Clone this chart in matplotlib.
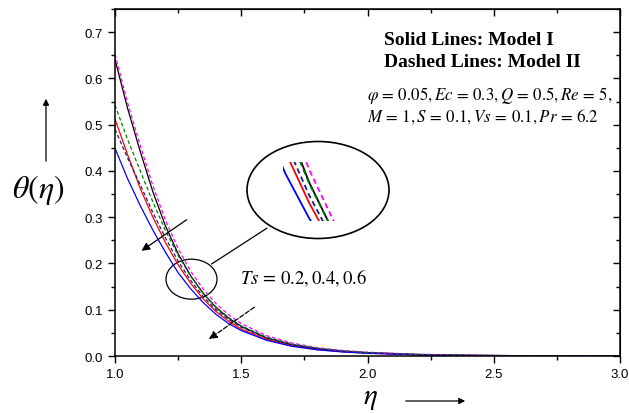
import matplotlib
matplotlib.use('Agg')
import matplotlib.pyplot as plt
from matplotlib.patches import Ellipse, FancyArrowPatch
from matplotlib.ticker import MultipleLocator

plt.rcParams['mathtext.fontset'] = 'stix'
plt.rcParams['font.family'] = ['Liberation Sans', 'DejaVu Sans']

eta = [1.0, 1.05, 1.1, 1.15, 1.2, 1.25, 1.3, 1.35, 1.4, 1.45, 1.5,
       1.6, 1.7, 1.8, 1.9, 2.0, 2.2, 2.4, 2.6, 2.8, 3.0]

# Model I (solid), Ts = 0.2, 0.4, 0.6
solid_ts02 = [0.641, 0.535, 0.442, 0.355, 0.281, 0.221, 0.173, 0.135, 0.105, 0.082, 0.064,
              0.039, 0.024, 0.0155, 0.0102, 0.0068, 0.003, 0.0013, 0.0006, 0.0002, 0.0]
solid_ts04 = [0.512, 0.435, 0.362, 0.300, 0.245, 0.197, 0.157, 0.123, 0.096, 0.075, 0.058,
              0.036, 0.022, 0.014, 0.0093, 0.0061, 0.0027, 0.0012, 0.0005, 0.0002, 0.0]
solid_ts06 = [0.449, 0.383, 0.325, 0.272, 0.224, 0.180, 0.145, 0.115, 0.090, 0.070, 0.055,
              0.034, 0.021, 0.0135, 0.0088, 0.0058, 0.0025, 0.0011, 0.0005, 0.0002, 0.0]
# Model II (dashed)
dash_ts02 = [0.652, 0.547, 0.455, 0.368, 0.293, 0.232, 0.183, 0.144, 0.113, 0.089, 0.070,
             0.044, 0.028, 0.018, 0.012, 0.0082, 0.0038, 0.0018, 0.0008, 0.0003, 0.0]
dash_ts04 = [0.542, 0.468, 0.400, 0.333, 0.271, 0.217, 0.172, 0.135, 0.106, 0.083, 0.065,
             0.041, 0.026, 0.017, 0.0112, 0.0076, 0.0035, 0.0016, 0.0007, 0.0003, 0.0]
dash_ts06 = [0.490, 0.428, 0.370, 0.310, 0.255, 0.205, 0.163, 0.128, 0.100, 0.079, 0.062,
             0.039, 0.025, 0.016, 0.0106, 0.0072, 0.0033, 0.0015, 0.0007, 0.0003, 0.0]

solid = [(solid_ts02, 'black'), (solid_ts04, '#ff0000'), (solid_ts06, '#0000ff')]
dashed = [(dash_ts02, '#ff00ff'), (dash_ts04, '#008000'), (dash_ts06, '#1a1a8c')]


def draw_curves(ax, lw=0.9):
    for vals, c in solid:
        ax.plot(eta, vals, color=c, lw=lw)
    for vals, c in dashed:
        ax.plot(eta, vals, color=c, lw=lw, ls=(0, (3, 2)))


fig = plt.figure(figsize=(6.29, 4.14), dpi=100)
ax = fig.add_axes([115/629, 1 - 357/414, 505/629, 347/414])
draw_curves(ax)
ax.set_xlim(1.0, 3.0)
ax.set_ylim(0.0, 0.75)
ax.xaxis.set_major_locator(MultipleLocator(0.5))
ax.xaxis.set_minor_locator(MultipleLocator(0.25))
ax.yaxis.set_minor_locator(MultipleLocator(0.05))
ax.set_yticks([0, 0.1, 0.2, 0.3, 0.4, 0.5, 0.6, 0.7])
ax.tick_params(which='both', direction='out', labelsize=9.5, width=1)
ax.tick_params(which='major', length=5)
ax.tick_params(which='minor', length=3)
for s in ax.spines.values():
    s.set_linewidth(1.1)

top = ax.secondary_xaxis('top')
top.xaxis.set_major_locator(MultipleLocator(0.5))
top.xaxis.set_minor_locator(MultipleLocator(0.25))
top.tick_params(which='both', direction='in', labeltop=False, width=1)
top.tick_params(which='major', length=5)
top.tick_params(which='minor', length=3)
right = ax.secondary_yaxis('right')
right.yaxis.set_major_locator(MultipleLocator(0.1))
right.yaxis.set_minor_locator(MultipleLocator(0.05))
right.tick_params(which='both', direction='in', labelright=False, width=1)
right.tick_params(which='major', length=5)
right.tick_params(which='minor', length=3)

# legend-like text
ax.text(0.533, 0.913, 'Solid Lines: Model I', transform=ax.transAxes, fontsize=14,
        fontweight='bold', family='Liberation Serif', va='center')
ax.text(0.533, 0.850, 'Dashed Lines: Model II', transform=ax.transAxes, fontsize=14,
        fontweight='bold', family='Liberation Serif', va='center')
ax.text(0.499, 0.755, r'$\varphi\,=\,0.05, Ec\,=\,0.3, Q\,=\,0.5, Re\,=\,5,$',
        transform=ax.transAxes, fontsize=12.2, va='center')
ax.text(0.499, 0.692, r'$M\,=\,1, S\,=\,0.1, Vs\,=\,0.1, Pr\,=\,6.2$',
        transform=ax.transAxes, fontsize=12.2, va='center')
ax.text(1.495, 0.171, r'$Ts\,=\,0.2, 0.4, 0.6$', fontsize=13.5, va='center')

# direction arrows
ax.annotate('', xy=(1.096, 0.224), xytext=(1.293, 0.298),
            arrowprops=dict(arrowstyle='-|>', color='black', lw=0.9, mutation_scale=12))
ax.annotate('', xy=(1.363, 0.033), xytext=(1.561, 0.109),
            arrowprops=dict(arrowstyle='-|>', color='black', lw=0.9, ls='--', mutation_scale=12))

# small ellipse + connector
ax.add_patch(Ellipse((1.303, 0.166), 0.202, 0.0864, fill=False, lw=0.9, ec='black'))
ax.plot([1.383, 1.601], [0.199, 0.276], color='black', lw=0.9)

# magnified view
fig.patches.append(Ellipse((318/629, 1 - 191/414), 142/629, 97/414, fill=False,
                           lw=1.2, ec='black', transform=fig.transFigure, figure=fig))
ins = fig.add_axes([283/629, 1 - 222/414, 62/629, 59/414])
draw_curves(ins, lw=1.3)
ins.set_xlim(1.245, 1.375)
ins.set_ylim(0.143, 0.189)
ins.axis('off')

# axis labels
fig.text(38/629, 1 - 190/414, r'$\theta(\eta)$', fontsize=23, ha='center', va='center')
fig.add_artist(FancyArrowPatch((46/629, 1 - 165/414), (46/629, 1 - 97/414),
               transform=fig.transFigure, arrowstyle='-|>', mutation_scale=9, lw=0.9, color='black'))
fig.text(370/629, 1 - 398/414, r'$\eta$', fontsize=21, ha='center', va='center')
fig.add_artist(FancyArrowPatch((403/629, 1 - 402/414), (468/629, 1 - 402/414),
               transform=fig.transFigure, arrowstyle='-|>', mutation_scale=9, lw=0.9, color='black'))

fig.savefig('out.png', dpi=100)
